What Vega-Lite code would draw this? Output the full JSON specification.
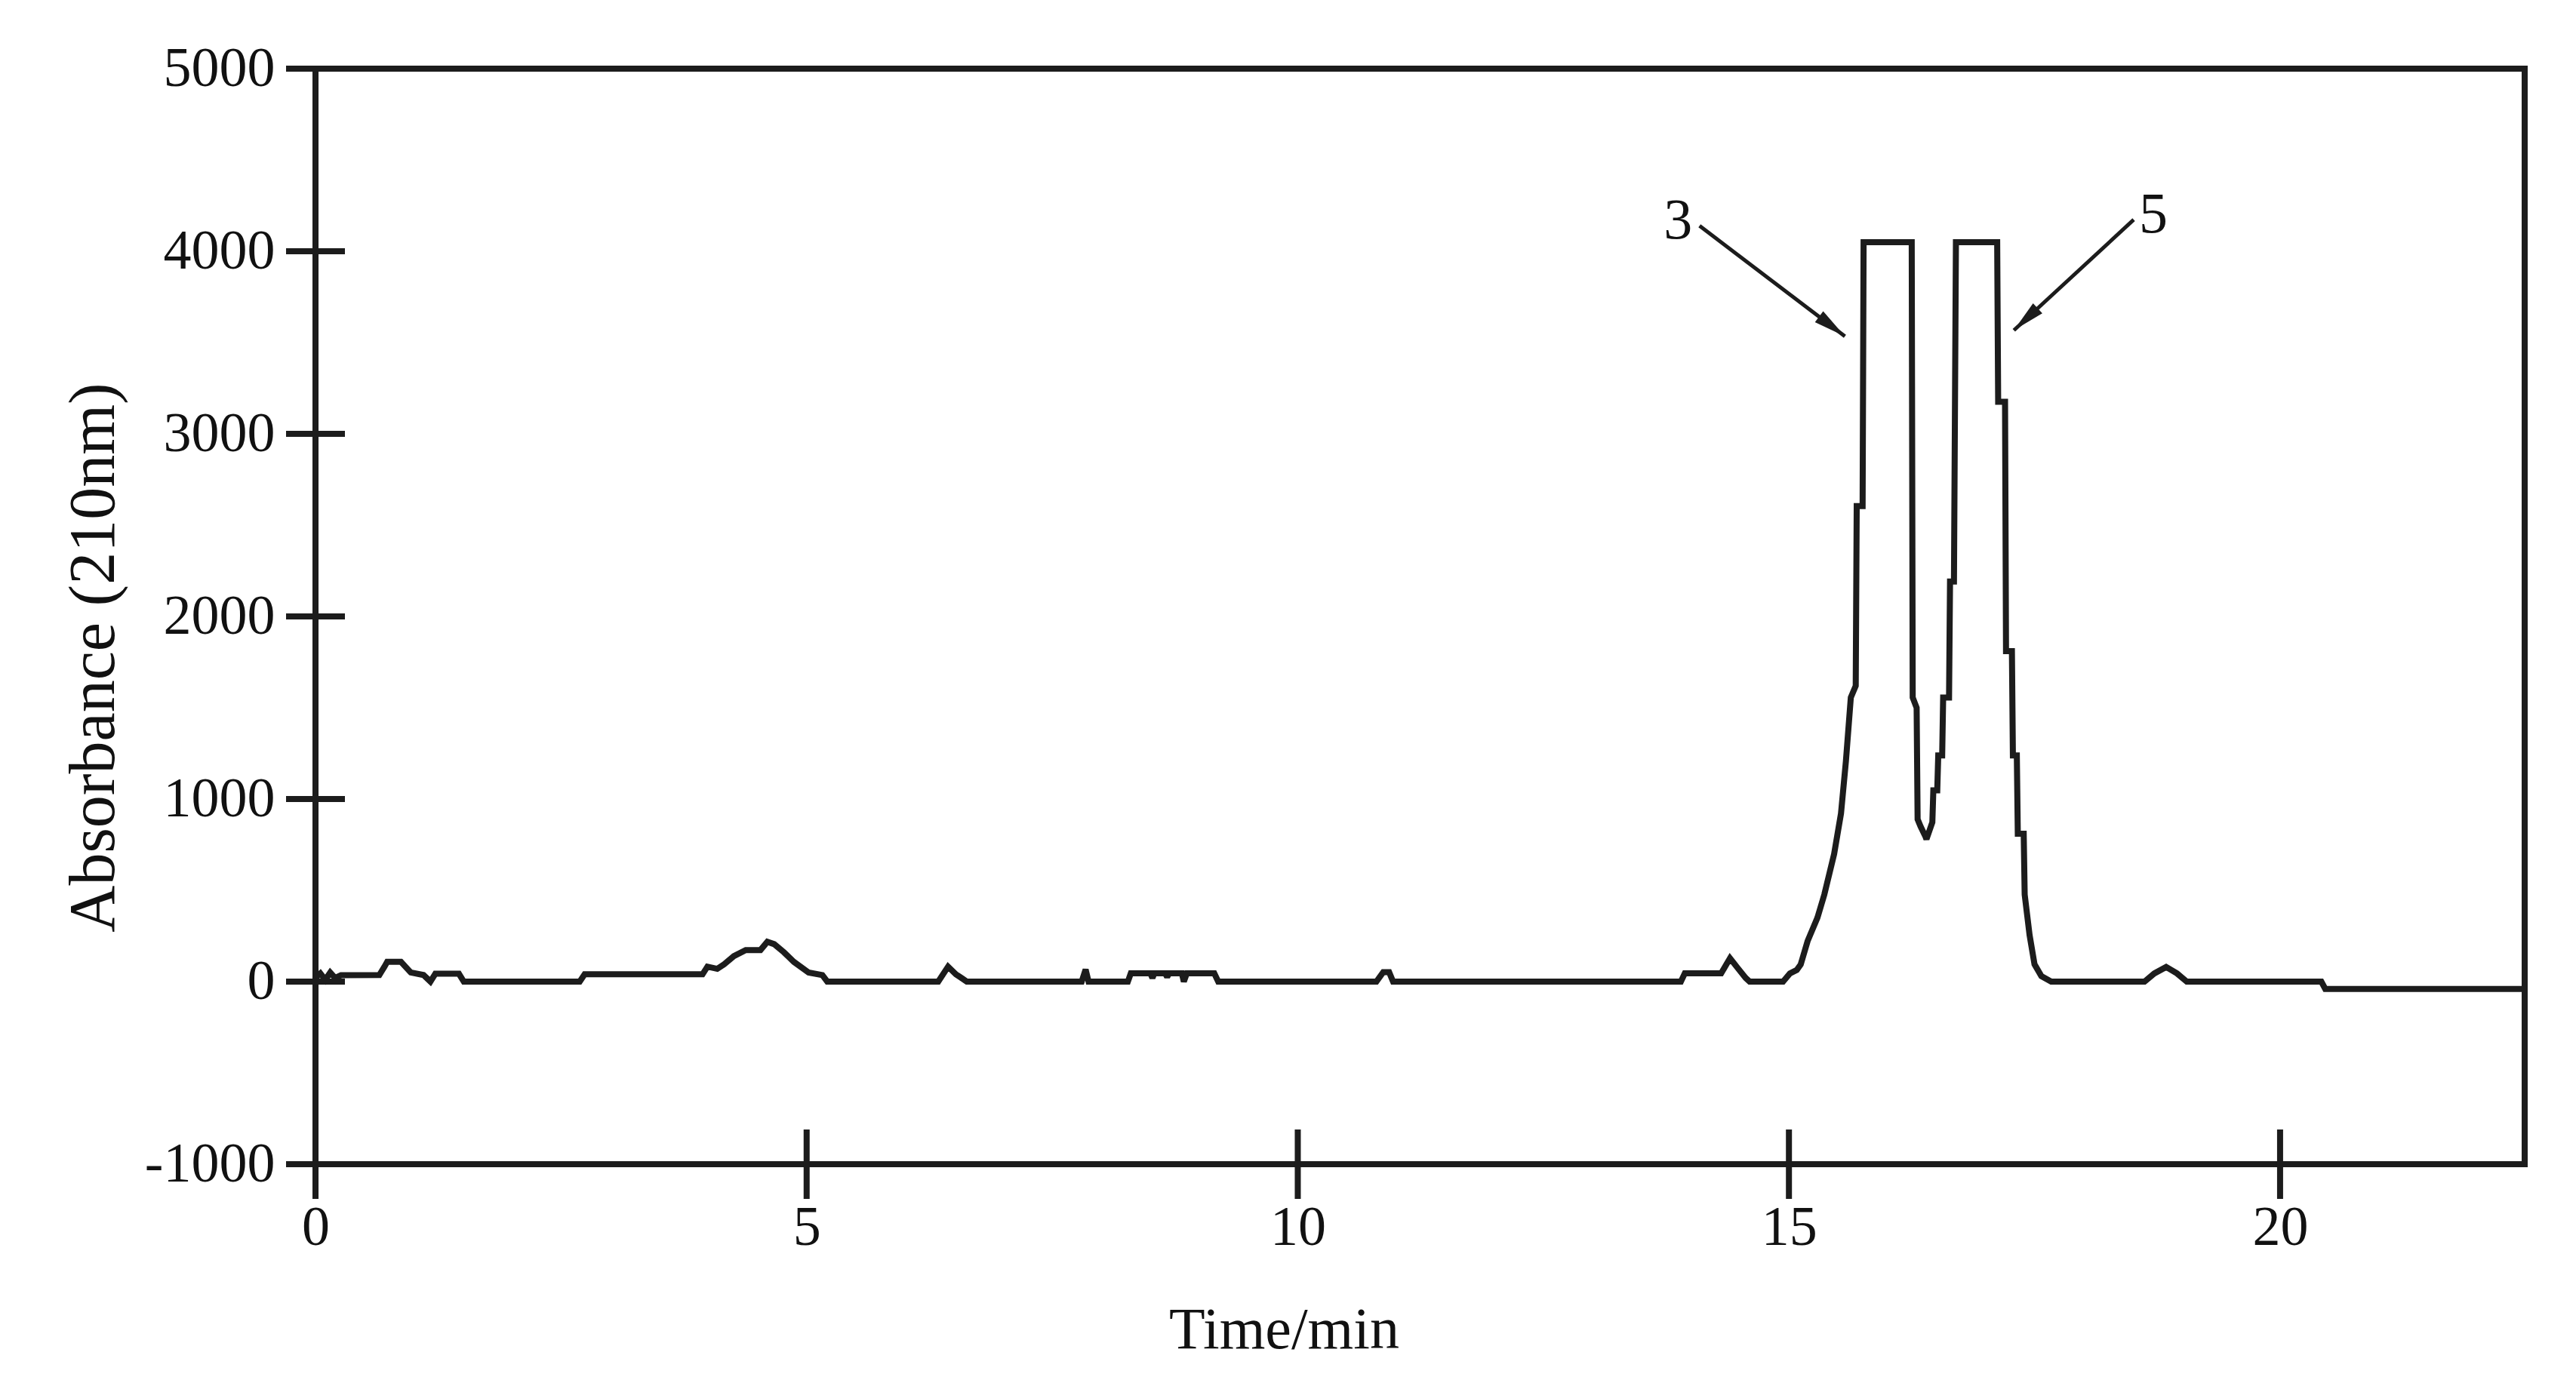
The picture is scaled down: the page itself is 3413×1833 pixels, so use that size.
{
  "$schema": "https://vega.github.io/schema/vega-lite/v6.json",
  "autosize": {"type": "none"},
  "padding": {"left": 418, "top": 91, "right": 68, "bottom": 290},
  "width": 2927,
  "height": 1452,
  "background": "white",
  "config": {
    "view": {"stroke": "#1c1c1c", "strokeWidth": 8},
    "axis": {
      "grid": false, "ticks": false, "domain": false,
      "labelFont": "Liberation Serif", "labelFontSize": 74, "labelColor": "#111", "labelLimit": 0,
      "titleFont": "Liberation Serif", "titleFontWeight": "normal", "titleColor": "#111",
      "labelFlush": false, "labelOverlap": false
    },
    "axisX": {"labelPadding": 48, "titleFontSize": 78, "titleX": 1283, "titleY": 243, "titleBaseline": "alphabetic"},
    "axisY": {"labelPadding": 54, "titleFontSize": 86, "titleX": -268, "titleY": 780, "titleAngle": 270, "titleBaseline": "alphabetic"}
  },
  "datasets": {
    "trace": [
      {"t": 0, "v": 20}, {"t": 0.05, "v": 45}, {"t": 0.1, "v": 10}, {"t": 0.15, "v": 50}, {"t": 0.2, "v": 20}, {"t": 0.26, "v": 35},
      {"t": 0.65, "v": 36}, {"t": 0.7, "v": 80}, {"t": 0.73, "v": 108}, {"t": 0.87, "v": 108}, {"t": 0.97, "v": 50}, {"t": 1.1, "v": 36},
      {"t": 1.17, "v": 0}, {"t": 1.22, "v": 43}, {"t": 1.46, "v": 43}, {"t": 1.51, "v": 0}, {"t": 2.69, "v": 0}, {"t": 2.74, "v": 40},
      {"t": 3.94, "v": 40}, {"t": 3.99, "v": 82}, {"t": 4.09, "v": 70}, {"t": 4.16, "v": 95}, {"t": 4.26, "v": 140}, {"t": 4.38, "v": 173},
      {"t": 4.53, "v": 173}, {"t": 4.6, "v": 218}, {"t": 4.67, "v": 205}, {"t": 4.77, "v": 160}, {"t": 4.87, "v": 108}, {"t": 5.02, "v": 50},
      {"t": 5.16, "v": 36}, {"t": 5.21, "v": 0}, {"t": 6.34, "v": 0}, {"t": 6.44, "v": 82}, {"t": 6.52, "v": 40}, {"t": 6.59, "v": 15},
      {"t": 6.63, "v": 0}, {"t": 7.8, "v": 0}, {"t": 7.84, "v": 66}, {"t": 7.87, "v": 0}, {"t": 8.27, "v": 0}, {"t": 8.3, "v": 45},
      {"t": 8.5, "v": 45}, {"t": 8.52, "v": 20}, {"t": 8.54, "v": 45}, {"t": 8.65, "v": 45}, {"t": 8.67, "v": 25}, {"t": 8.69, "v": 45},
      {"t": 8.82, "v": 45}, {"t": 8.84, "v": 0}, {"t": 8.87, "v": 45}, {"t": 9.15, "v": 45}, {"t": 9.19, "v": 0}, {"t": 10.8, "v": 0},
      {"t": 10.87, "v": 52}, {"t": 10.93, "v": 52}, {"t": 10.97, "v": 0}, {"t": 13.9, "v": 0}, {"t": 13.94, "v": 45}, {"t": 14.31, "v": 45},
      {"t": 14.4, "v": 128}, {"t": 14.47, "v": 80}, {"t": 14.56, "v": 20}, {"t": 14.6, "v": 0}, {"t": 14.94, "v": 0}, {"t": 15.01, "v": 45},
      {"t": 15.08, "v": 64}, {"t": 15.12, "v": 94}, {"t": 15.19, "v": 222}, {"t": 15.29, "v": 350}, {"t": 15.36, "v": 476}, {"t": 15.46, "v": 699},
      {"t": 15.53, "v": 921}, {"t": 15.58, "v": 1207}, {"t": 15.63, "v": 1556}, {"t": 15.68, "v": 1620}, {"t": 15.69, "v": 2604}, {"t": 15.75, "v": 2604},
      {"t": 15.76, "v": 4050}, {"t": 16.25, "v": 4050}, {"t": 16.26, "v": 1556}, {"t": 16.3, "v": 1500}, {"t": 16.31, "v": 889}, {"t": 16.34, "v": 850},
      {"t": 16.39, "v": 794}, {"t": 16.4, "v": 780}, {"t": 16.46, "v": 873}, {"t": 16.47, "v": 1048}, {"t": 16.51, "v": 1048}, {"t": 16.52, "v": 1239},
      {"t": 16.56, "v": 1239}, {"t": 16.57, "v": 1556}, {"t": 16.63, "v": 1556}, {"t": 16.64, "v": 2191}, {"t": 16.68, "v": 2191}, {"t": 16.7, "v": 4050},
      {"t": 17.12, "v": 4050}, {"t": 17.13, "v": 3176}, {"t": 17.2, "v": 3176}, {"t": 17.21, "v": 1810}, {"t": 17.27, "v": 1810}, {"t": 17.28, "v": 1239},
      {"t": 17.32, "v": 1239}, {"t": 17.33, "v": 810}, {"t": 17.39, "v": 810}, {"t": 17.4, "v": 476}, {"t": 17.45, "v": 254}, {"t": 17.5, "v": 95},
      {"t": 17.57, "v": 30}, {"t": 17.67, "v": 0}, {"t": 18.62, "v": 0}, {"t": 18.72, "v": 45}, {"t": 18.84, "v": 80}, {"t": 18.95, "v": 45},
      {"t": 19.05, "v": 0}, {"t": 20.42, "v": 0}, {"t": 20.46, "v": -40}, {"t": 22.49, "v": -40}
    ],
    "yticks": [{"v": -1000}, {"v": 0}, {"v": 1000}, {"v": 2000}, {"v": 3000}, {"v": 4000}, {"v": 5000}],
    "xticks": [{"t": 0}, {"t": 5}, {"t": 10}, {"t": 15}, {"t": 20}],
    "arrows": [
      {"peak": "3", "tx": 13.87, "ty": 4166, "x1": 14.09, "y1": 4139, "x2": 15.57, "y2": 3534},
      {"peak": "5", "tx": 18.71, "ty": 4200, "x1": 18.51, "y1": 4173, "x2": 17.29, "y2": 3567}
    ]
  },
  "layer": [
    {
      "data": {"name": "trace"},
      "mark": {"type": "line", "color": "#1c1c1c", "strokeWidth": 8, "strokeJoin": "miter", "strokeMiterLimit": 2},
      "encoding": {
        "x": {"field": "t", "type": "quantitative", "title": "Time/min",
              "scale": {"domain": [0, 22.49], "nice": false, "zero": false},
              "axis": {"values": [0, 5, 10, 15, 20], "format": "d"}},
        "y": {"field": "v", "type": "quantitative", "title": "Absorbance (210nm)",
              "scale": {"domain": [-1000, 5000], "nice": false, "zero": false},
              "axis": {"values": [-1000, 0, 1000, 2000, 3000, 4000, 5000], "labelExpr": "toString(datum.value)"}}
      }
    },
    {
      "data": {"name": "yticks"},
      "mark": {"type": "tick", "orient": "horizontal", "size": 78, "thickness": 8, "color": "#1c1c1c", "opacity": 1},
      "encoding": {
        "x": {"datum": 0, "type": "quantitative", "title": "Time/min"},
        "y": {"field": "v", "type": "quantitative", "title": "Absorbance (210nm)"}
      }
    },
    {
      "data": {"name": "xticks"},
      "mark": {"type": "tick", "orient": "vertical", "size": 92, "thickness": 8, "color": "#1c1c1c", "opacity": 1},
      "encoding": {
        "x": {"field": "t", "type": "quantitative", "title": "Time/min"},
        "y": {"datum": -1000, "type": "quantitative", "title": "Absorbance (210nm)"}
      }
    },
    {
      "data": {"name": "arrows"},
      "mark": {"type": "rule", "color": "#1c1c1c", "strokeWidth": 5},
      "encoding": {
        "x": {"field": "x1", "type": "quantitative", "title": "Time/min"},
        "y": {"field": "y1", "type": "quantitative", "title": "Absorbance (210nm)"},
        "x2": {"field": "x2"},
        "y2": {"field": "y2"}
      }
    },
    {
      "data": {"name": "arrows"},
      "transform": [{"filter": "datum.peak === '3'"}],
      "mark": {"type": "point", "shape": "M0,0 L0.42,2 L-0.42,2 Z", "size": 1850, "filled": true, "color": "#1c1c1c", "opacity": 1, "angle": 127.2},
      "encoding": {
        "x": {"field": "x2", "type": "quantitative", "title": "Time/min"},
        "y": {"field": "y2", "type": "quantitative", "title": "Absorbance (210nm)"}
      }
    },
    {
      "data": {"name": "arrows"},
      "transform": [{"filter": "datum.peak === '5'"}],
      "mark": {"type": "point", "shape": "M0,0 L0.42,2 L-0.42,2 Z", "size": 1850, "filled": true, "color": "#1c1c1c", "opacity": 1, "angle": 227.2},
      "encoding": {
        "x": {"field": "x2", "type": "quantitative", "title": "Time/min"},
        "y": {"field": "y2", "type": "quantitative", "title": "Absorbance (210nm)"}
      }
    },
    {
      "data": {"name": "arrows"},
      "mark": {"type": "text", "font": "Liberation Serif", "fontSize": 76, "color": "#111", "align": "center", "baseline": "middle"},
      "encoding": {
        "x": {"field": "tx", "type": "quantitative", "title": "Time/min"},
        "y": {"field": "ty", "type": "quantitative", "title": "Absorbance (210nm)"},
        "text": {"field": "peak"}
      }
    }
  ]
}
